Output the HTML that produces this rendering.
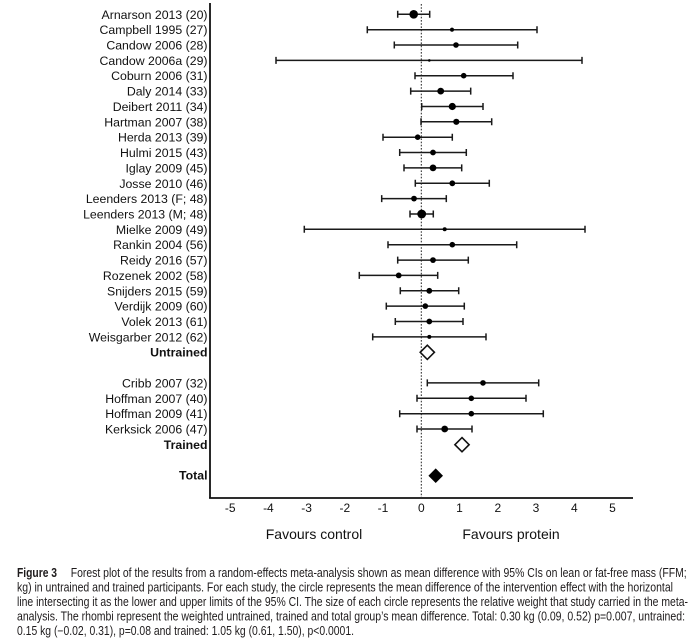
<!DOCTYPE html>
<html><head><meta charset="utf-8"><style>
html,body{margin:0;padding:0;background:#fff;}
svg{display:block;}
</style></head><body>
<svg width="700" height="638" viewBox="0 0 700 638" xmlns="http://www.w3.org/2000/svg">
<rect width="700" height="638" fill="#fff"/>
<!-- axes -->
<line x1="210" y1="3" x2="210" y2="498.5" stroke="#111" stroke-width="1.8"/>
<line x1="209.1" y1="498" x2="633" y2="498" stroke="#111" stroke-width="1.8"/>
<line x1="421.3" y1="4" x2="421.3" y2="497" stroke="#222" stroke-width="1" stroke-dasharray="1.6,1.6"/>

<g font-family="Liberation Sans, Arial, sans-serif" font-size="12.3" fill="#111" text-anchor="end">
<text x="207.5" y="18.8">Arnarson 2013 (20)</text>
<text x="207.5" y="34.2">Campbell 1995 (27)</text>
<text x="207.5" y="49.5">Candow 2006 (28)</text>
<text x="207.5" y="64.9">Candow 2006a (29)</text>
<text x="207.5" y="80.2">Coburn 2006 (31)</text>
<text x="207.5" y="95.6">Daly 2014 (33)</text>
<text x="207.5" y="111.0">Deibert 2011 (34)</text>
<text x="207.5" y="126.3">Hartman 2007 (38)</text>
<text x="207.5" y="141.7">Herda 2013 (39)</text>
<text x="207.5" y="157.0">Hulmi 2015 (43)</text>
<text x="207.5" y="172.4">Iglay 2009 (45)</text>
<text x="207.5" y="187.8">Josse 2010 (46)</text>
<text x="207.5" y="203.1">Leenders 2013 (F; 48)</text>
<text x="207.5" y="218.5">Leenders 2013 (M; 48)</text>
<text x="207.5" y="233.8">Mielke 2009 (49)</text>
<text x="207.5" y="249.2">Rankin 2004 (56)</text>
<text x="207.5" y="264.6">Reidy 2016 (57)</text>
<text x="207.5" y="279.9">Rozenek 2002 (58)</text>
<text x="207.5" y="295.3">Snijders 2015 (59)</text>
<text x="207.5" y="310.6">Verdijk 2009 (60)</text>
<text x="207.5" y="326.0">Volek 2013 (61)</text>
<text x="207.5" y="341.4">Weisgarber 2012 (62)</text>
<text x="207.5" y="356.7" font-weight="bold">Untrained</text>
<text x="207.5" y="387.4">Cribb 2007 (32)</text>
<text x="207.5" y="402.8">Hoffman 2007 (40)</text>
<text x="207.5" y="418.2">Hoffman 2009 (41)</text>
<text x="207.5" y="433.5">Kerksick 2006 (47)</text>
<text x="207.5" y="448.9" font-weight="bold">Trained</text>
<text x="207.5" y="479.6" font-weight="bold">Total</text>
</g>

<!-- error bars -->
<g stroke="#1a1a1a" stroke-width="1.5" fill="none">
<path d="M397.7 14.3H429.7M397.7 10.8V17.8M429.7 10.8V17.8"/>
<path d="M367.3 29.7H537M367.3 26.2V33.2M537 26.2V33.2"/>
<path d="M394.3 45H517.7M394.3 41.5V48.5M517.7 41.5V48.5"/>
<path d="M276 60.4H582M276 56.9V63.9M582 56.9V63.9"/>
<path d="M415 75.7H513M415 72.2V79.2M513 72.2V79.2"/>
<path d="M410.7 91.1H470.7M410.7 87.6V94.6M470.7 87.6V94.6"/>
<path d="M421.7 106.5H483M421.7 103V110M483 103V110"/>
<path d="M421 121.8H491.7M421 118.3V125.3M491.7 118.3V125.3"/>
<path d="M383 137.2H452.3M383 133.7V140.7M452.3 133.7V140.7"/>
<path d="M399.7 152.5H466.3M399.7 149V156M466.3 149V156"/>
<path d="M404 167.9H461.7M404 164.4V171.4M461.7 164.4V171.4"/>
<path d="M415.3 183.3H489.3M415.3 179.8V186.8M489.3 179.8V186.8"/>
<path d="M381.7 198.6H446.3M381.7 195.1V202.1M446.3 195.1V202.1"/>
<path d="M410 214H433.3M410 210.5V217.5M433.3 210.5V217.5"/>
<path d="M304.3 229.3H585M304.3 225.8V232.8M585 225.8V232.8"/>
<path d="M388 244.7H516.7M388 241.2V248.2M516.7 241.2V248.2"/>
<path d="M397.7 260.1H468.3M397.7 256.6V263.6M468.3 256.6V263.6"/>
<path d="M359.3 275.4H437.7M359.3 271.9V278.9M437.7 271.9V278.9"/>
<path d="M400.3 290.8H458.7M400.3 287.3V294.3M458.7 287.3V294.3"/>
<path d="M386.3 306.1H464.3M386.3 302.6V309.6M464.3 302.6V309.6"/>
<path d="M395.3 321.5H463M395.3 318V325M463 318V325"/>
<path d="M372.7 336.9H486M372.7 333.4V340.4M486 333.4V340.4"/>
<path d="M427.3 382.9H538.7M427.3 379.4V386.4M538.7 379.4V386.4"/>
<path d="M417 398.3H526M417 394.8V401.8M526 394.8V401.8"/>
<path d="M399.7 413.7H543.3M399.7 410.2V417.2M543.3 410.2V417.2"/>
<path d="M417 429H472M417 425.5V432.5M472 425.5V432.5"/>
</g>

<!-- points -->
<g fill="#000">
<circle cx="413.7" cy="14.3" r="4.3"/>
<circle cx="452" cy="29.7" r="2.1"/>
<circle cx="456" cy="45" r="2.8"/>
<circle cx="429.3" cy="60.4" r="1.3"/>
<circle cx="463.7" cy="75.7" r="2.8"/>
<circle cx="440.7" cy="91.1" r="3.4"/>
<circle cx="452.3" cy="106.5" r="3.6"/>
<circle cx="456.3" cy="121.8" r="3.1"/>
<circle cx="417.7" cy="137.2" r="2.8"/>
<circle cx="433" cy="152.5" r="2.9"/>
<circle cx="433" cy="167.9" r="3.4"/>
<circle cx="452.3" cy="183.3" r="2.9"/>
<circle cx="414" cy="198.6" r="2.9"/>
<circle cx="421.7" cy="214" r="4.4"/>
<circle cx="444.7" cy="229.3" r="2"/>
<circle cx="452.3" cy="244.7" r="2.8"/>
<circle cx="433" cy="260.1" r="2.9"/>
<circle cx="398.7" cy="275.4" r="2.9"/>
<circle cx="429.3" cy="290.8" r="2.9"/>
<circle cx="425.3" cy="306.1" r="2.8"/>
<circle cx="429.3" cy="321.5" r="2.9"/>
<circle cx="429.3" cy="336.9" r="2"/>
<circle cx="483" cy="382.9" r="2.8"/>
<circle cx="471.3" cy="398.3" r="2.8"/>
<circle cx="471.3" cy="413.7" r="2.8"/>
<circle cx="444.7" cy="429" r="3.4"/>
</g>

<!-- diamonds -->
<path d="M427.3 345.2L434.4 352.3L427.3 359.4L420.2 352.3Z" fill="#fff" stroke="#111" stroke-width="1.6"/>
<path d="M462 437.6L469.1 444.7L462 451.8L454.9 444.7Z" fill="#fff" stroke="#111" stroke-width="1.6"/>
<path d="M435.7 468.4L443 475.7L435.7 483L428.4 475.7Z" fill="#000"/>

<!-- tick labels -->
<g font-family="Liberation Sans, Arial, sans-serif" font-size="12" fill="#111" text-anchor="middle">
<text x="230.2" y="512">-5</text>
<text x="268.4" y="512">-4</text>
<text x="306.6" y="512">-3</text>
<text x="344.8" y="512">-2</text>
<text x="383" y="512">-1</text>
<text x="421.3" y="512">0</text>
<text x="459.5" y="512">1</text>
<text x="497.8" y="512">2</text>
<text x="536" y="512">3</text>
<text x="574.3" y="512">4</text>
<text x="612.5" y="512">5</text>
</g>
<g font-family="Liberation Sans, Arial, sans-serif" font-size="14" fill="#111" text-anchor="middle">
<text x="314" y="539">Favours control</text>
<text x="511" y="539">Favours protein</text>
</g>

<!-- caption -->
<g font-family="Liberation Sans, Arial, sans-serif" font-size="12.6" fill="#1e1b1c">
<text x="17" y="576.8" font-weight="bold" textLength="40" lengthAdjust="spacingAndGlyphs">Figure 3</text>
<text x="70.7" y="576.8" textLength="616" lengthAdjust="spacingAndGlyphs">Forest plot of the results from a random-effects meta-analysis shown as mean difference with 95% CIs on lean or fat-free mass (FFM;</text>
<text x="17" y="591.3" textLength="656" lengthAdjust="spacingAndGlyphs">kg) in untrained and trained participants. For each study, the circle represents the mean difference of the intervention effect with the horizontal</text>
<text x="17" y="605.8" textLength="671" lengthAdjust="spacingAndGlyphs">line intersecting it as the lower and upper limits of the 95% CI. The size of each circle represents the relative weight that study carried in the meta-</text>
<text x="17" y="620.6" textLength="668" lengthAdjust="spacingAndGlyphs">analysis. The rhombi represent the weighted untrained, trained and total group’s mean difference. Total: 0.30 kg (0.09, 0.52) p=0.007, untrained:</text>
<text x="17" y="635.2" textLength="337" lengthAdjust="spacingAndGlyphs">0.15 kg (−0.02, 0.31), p=0.08 and trained: 1.05 kg (0.61, 1.50), p&lt;0.0001.</text>
</g>
</svg>
</body></html>
